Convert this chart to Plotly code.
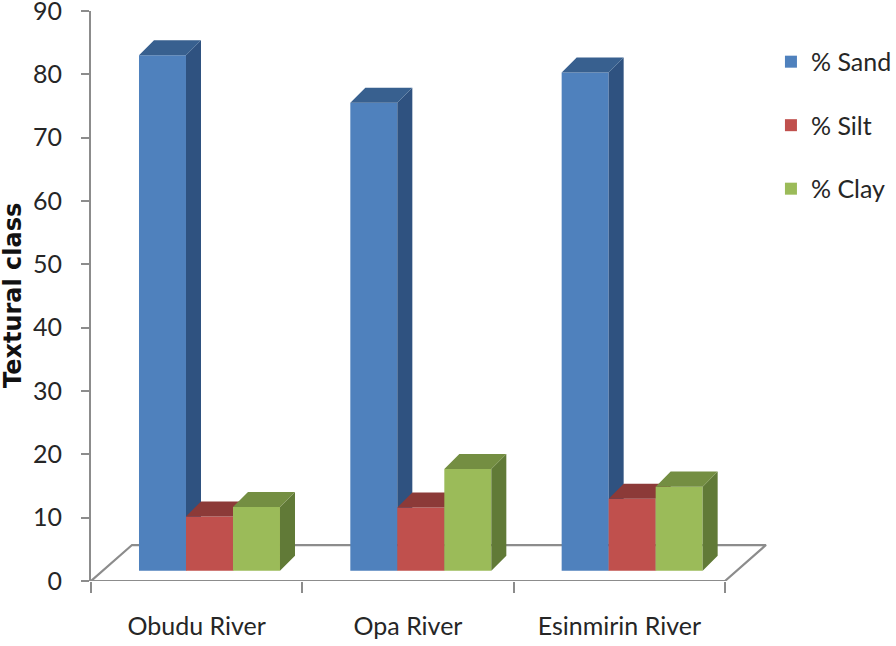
import plotly.graph_objects as go

categories = ["Obudu River", "Opa River", "Esinmirin River"]
sand = [81.4, 73.9, 78.7]
silt = [8.6, 10.0, 11.4]
clay = [10.1, 16.1, 13.3]
y_ticks = list(range(0, 100, 10))

FONT = "Lato"
TXT = "#262626"
GRID = "#8C8C8C"
FLOOR_Z = 1.6      # base of the bars above the zero of the axis
W = 0.2224         # bar width, category units
DX, DY = 0.071, 2.37    # bar depth
FDX, FDY = 0.194, 5.68  # floor depth
X_MAX = 3.2808

series = [
    ("% Sand", sand, -0.2729, "#4F81BD", "#2F5280", "#38608F"),
    ("% Silt", silt, -0.0505, "#C0504D", "#7E3331", "#8C3A38"),
    ("% Clay", clay, 0.1719, "#9BBB59", "#617A37", "#748E42"),
]

fig = go.Figure()
xs = list(range(len(categories)))

# floor
fig.add_trace(go.Scatter(
    x=[-0.5, 2.5, 2.5 + FDX, -0.5 + FDX, -0.5],
    y=[0, 0, FDY, FDY, 0],
    mode="lines", line=dict(color=GRID, width=2.2),
    showlegend=False, hoverinfo="skip", xaxis="x", yaxis="y",
))


def poly(pts_list):
    px, py = [], []
    for pts in pts_list:
        for a, b in pts:
            px.append(a)
            py.append(b)
        px.append(None)
        py.append(None)
    return px, py


for i, (name, vals, off, front, side, top) in enumerate(series):
    ax = str(i + 2)
    fig.add_trace(go.Bar(
        x=xs, y=vals, base=FLOOR_Z, width=W, offset=off, name=name,
        marker=dict(color=front, line=dict(width=0)),
        legendgroup=name, xaxis="x" + ax, yaxis="y" + ax,
    ))
    sides, tops = [], []
    for c, v in zip(xs, vals):
        x0, x1 = c + off, c + off + W
        t = v + FLOOR_Z
        sides.append([(x1, t), (x1 + DX, t + DY), (x1 + DX, FLOOR_Z + DY), (x1, FLOOR_Z)])
        tops.append([(x0, t), (x0 + DX, t + DY), (x1 + DX, t + DY), (x1, t)])
    for faces, col in ((sides, side), (tops, top)):
        px, py = poly(faces)
        fig.add_trace(go.Scatter(
            x=px, y=py, mode="lines", fill="toself", fillcolor=col,
            line=dict(width=0, color=col), showlegend=False, hoverinfo="skip",
            legendgroup=name, xaxis="x" + ax, yaxis="y" + ax,
        ))

layout = dict(
    width=910, height=646, autosize=False,
    margin=dict(l=91, r=20, t=11, b=65, pad=0),
    paper_bgcolor="white", plot_bgcolor="rgba(0,0,0,0)",
    barmode="overlay", showlegend=True,
    font=dict(family=FONT, color=TXT),
    legend=dict(
        x=0.851, xanchor="left", y=0.951, yanchor="top",
        font=dict(family=FONT, size=25, color=TXT),
        tracegroupgap=28, itemwidth=30, bgcolor="rgba(0,0,0,0)",
    ),
    xaxis=dict(
        automargin=False, ticklabeloverflow="allow",
        range=[-0.5, X_MAX], showgrid=False, zeroline=False, showline=False,
        tickmode="array", tickvals=xs, ticktext=categories, ticks="",
        ticklabelstandoff=28,
        tickfont=dict(family=FONT, size=25, color=TXT),
        minor=dict(tickmode="array", tickvals=[-0.5, 0.5, 1.5, 2.5], ticks="outside",
                   ticklen=11, tickwidth=2, tickcolor=GRID, showgrid=False),
    ),
    yaxis=dict(
        automargin=False, ticklabeloverflow="allow",
        range=[0, 90], showgrid=False, zeroline=False, showline=True, linecolor=GRID,
        linewidth=2, ticks="outside", ticklen=8, tickwidth=2, tickcolor=GRID,
        tickmode="array", tickvals=y_ticks, ticklabelstandoff=14,
        tickfont=dict(family=FONT, size=25, color=TXT),
    ),
    annotations=[dict(
        text="<b>Textural class</b>", textangle=-90, showarrow=False,
        xref="paper", yref="paper", x=-0.0976, y=0.5, xanchor="center", yanchor="middle",
        font=dict(family="DejaVu Sans", size=24, color="#111111"),
    )],
)
for i in range(3):
    n = str(i + 2)
    layout["xaxis" + n] = dict(range=[-0.5, X_MAX], overlaying="x", visible=False)
    layout["yaxis" + n] = dict(range=[0, 90], overlaying="y", visible=False)
fig.update_layout(**layout)

fig.write_html(
    "out.html",
    post_script="document.body.style.margin='0';document.body.style.overflow='hidden';"
                "document.documentElement.style.overflow='hidden';",
    config=dict(displayModeBar=False),
)
